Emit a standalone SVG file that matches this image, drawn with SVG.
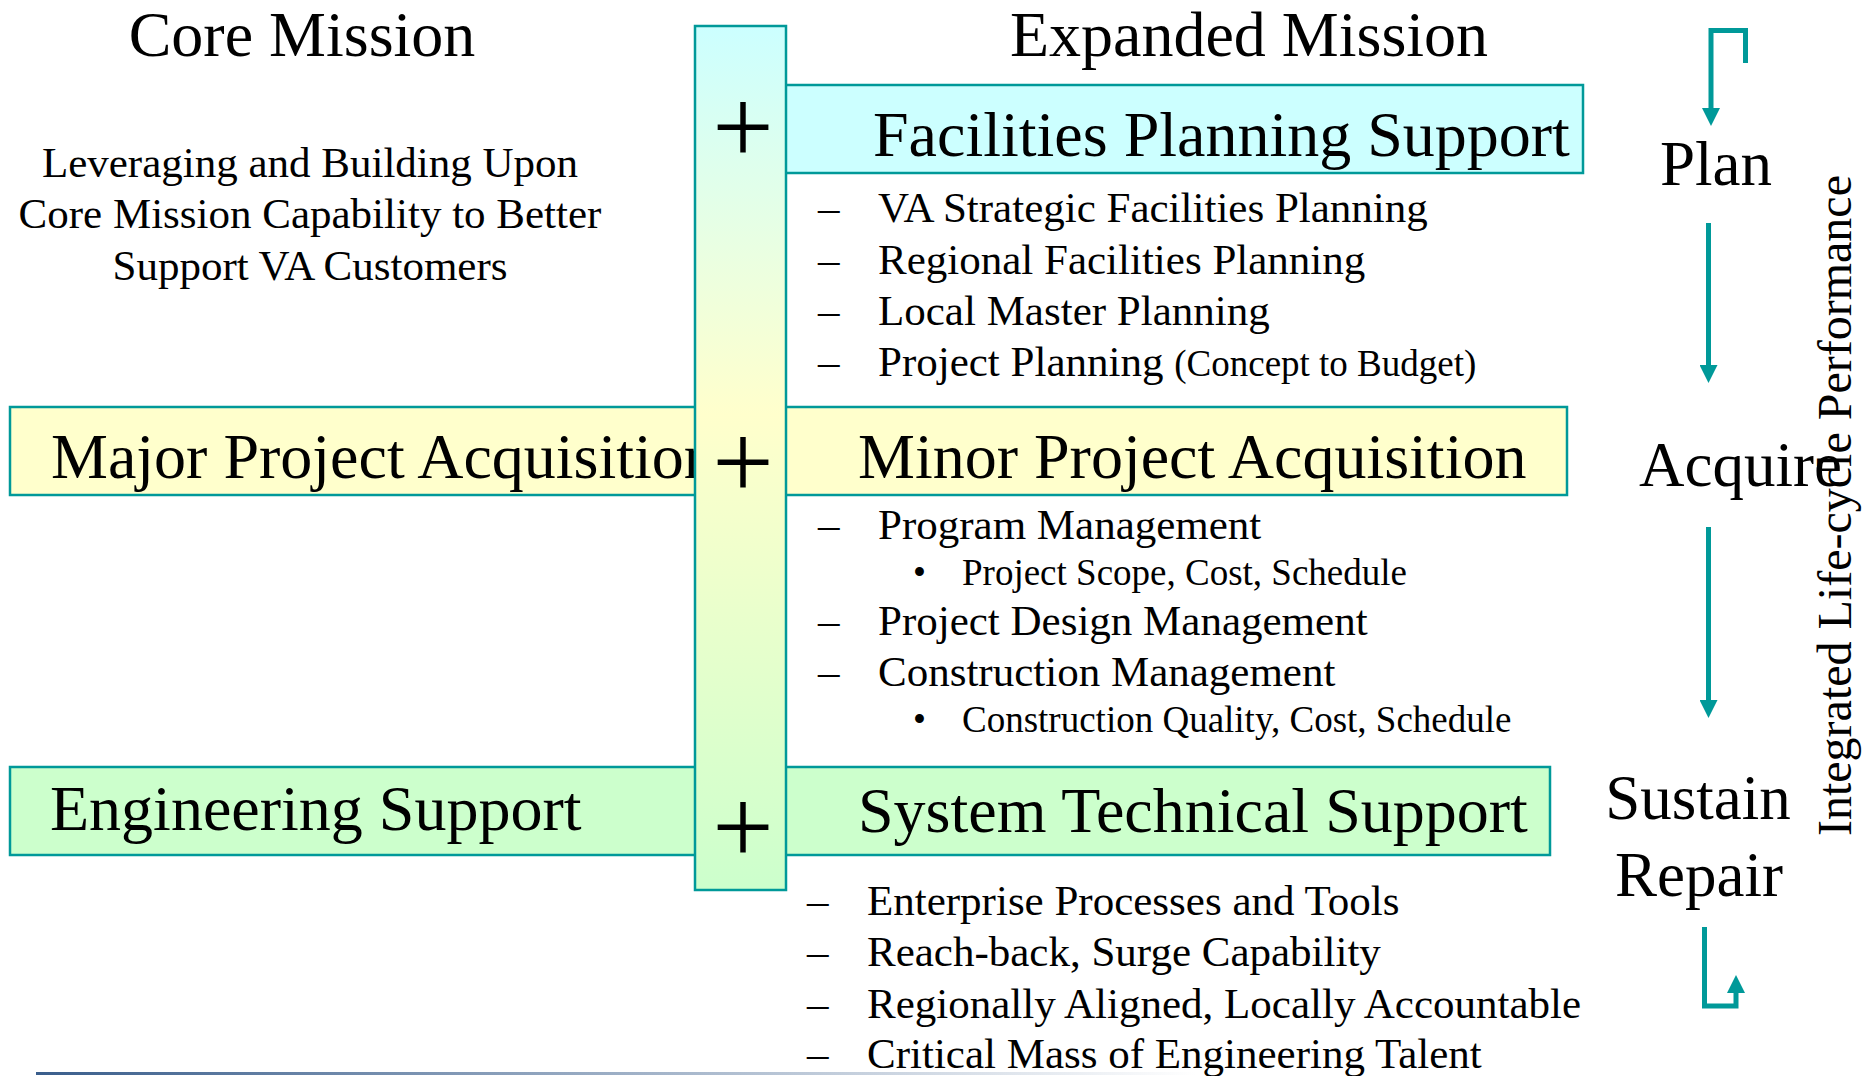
<svg xmlns="http://www.w3.org/2000/svg" width="1873" height="1076" viewBox="0 0 1873 1076">
<style>
.t{font-family:"Liberation Serif","Times New Roman",serif;fill:#000}
.h{font-size:64px}
.b{font-size:43px}
.s{font-size:37px}
.r{font-size:63px}
.box{stroke:#009999;stroke-width:2.5}
.arr{stroke:#009999;stroke-width:5;fill:none;stroke-linejoin:miter;stroke-linecap:butt}
</style>
<defs>
<linearGradient id="barGrad" x1="0" y1="0" x2="0" y2="1">
<stop offset="0" stop-color="#ccffff"/>
<stop offset="0.45" stop-color="#ffffcc"/>
<stop offset="1" stop-color="#ccffcc"/>
</linearGradient>
<linearGradient id="lineGrad" x1="0" y1="0" x2="1" y2="0">
<stop offset="0" stop-color="#3a5e8c"/>
<stop offset="1" stop-color="#ffffff"/>
</linearGradient>
<marker id="ah" viewBox="0 0 18 18" refX="0" refY="9" markerWidth="18" markerHeight="18" markerUnits="userSpaceOnUse" orient="auto">
<path d="M0,0 L18,9 L0,18 z" fill="#009999"/>
</marker>
</defs>
<rect width="1873" height="1076" fill="#fff"/>

<g id="headings">
<text class="t h" x="302" y="56" text-anchor="middle">Core Mission</text>
<text class="t h" x="1249" y="56" text-anchor="middle">Expanded Mission</text>
</g>

<g id="core-description">
<text class="t b" x="310" y="177" text-anchor="middle">Leveraging and Building Upon</text>
<text class="t b" x="310" y="228" text-anchor="middle">Core Mission Capability to Better</text>
<text class="t b" x="310" y="280" text-anchor="middle">Support VA Customers</text>
</g>

<g id="major-project-acquisition">
<rect class="box" x="10" y="407" width="700" height="88" fill="#ffffcc"/>
<text class="t h" x="51" y="478">Major Project Acquisition</text>
</g>

<g id="engineering-support">
<rect class="box" x="10" y="767" width="700" height="88" fill="#ccffcc"/>
<text class="t h" x="50" y="830">Engineering Support</text>
</g>

<g id="facilities-planning-support">
<rect class="box" x="770" y="85" width="813" height="88" fill="#ccffff"/>
<text class="t h" x="873" y="156">Facilities Planning Support</text>
<g class="t b">
<text x="818" y="222">–</text><text x="878" y="222">VA Strategic Facilities Planning</text>
<text x="818" y="274">–</text><text x="878" y="274">Regional Facilities Planning</text>
<text x="818" y="325">–</text><text x="878" y="325">Local Master Planning</text>
<text x="818" y="376">–</text><text x="878" y="376">Project Planning <tspan font-size="37px">(Concept to Budget)</tspan></text>
</g>
</g>

<g id="minor-project-acquisition">
<rect class="box" x="770" y="407" width="797" height="88" fill="#ffffcc"/>
<text class="t h" x="858" y="478">Minor Project Acquisition</text>
<g class="t b">
<text x="818" y="539">–</text><text x="878" y="539">Program Management</text>
<text x="818" y="635">–</text><text x="878" y="635">Project Design Management</text>
<text x="818" y="686">–</text><text x="878" y="686">Construction Management</text>
</g>
<g class="t s">
<text x="913" y="585">•</text><text x="962" y="585">Project Scope, Cost, Schedule</text>
<text x="913" y="732">•</text><text x="962" y="732">Construction Quality, Cost, Schedule</text>
</g>
</g>

<g id="system-technical-support">
<rect class="box" x="770" y="767" width="780" height="88" fill="#ccffcc"/>
<text class="t h" x="858" y="832">System Technical Support</text>
<g class="t b">
<text x="807" y="915">–</text><text x="867" y="915">Enterprise Processes and Tools</text>
<text x="807" y="966">–</text><text x="867" y="966">Reach-back, Surge Capability</text>
<text x="807" y="1018">–</text><text x="867" y="1018">Regionally Aligned, Locally Accountable</text>
<text x="807" y="1068">–</text><text x="867" y="1068">Critical Mass of Engineering Talent</text>
</g>
</g>

<g id="plus-bar">
<rect class="box" x="695" y="26" width="91" height="864" fill="url(#barGrad)"/>
<g class="t" font-size="109px" text-anchor="middle">
<text x="743" y="163">+</text>
<text x="743" y="498">+</text>
<text x="743" y="863">+</text>
</g>
</g>

<g id="lifecycle-stages">
<text class="t r" x="1716" y="185" text-anchor="middle">Plan</text>
<text class="t r" x="1639" y="486">Acquire</text>
<text class="t r" x="1698" y="819" text-anchor="middle">Sustain</text>
<text class="t r" x="1699" y="896" text-anchor="middle">Repair</text>
</g>

<g id="lifecycle-label">
<text class="t" font-size="48px" transform="translate(1851,836) rotate(-90)">Integrated Life-cycle Performance</text>
</g>

<g id="connectors">
<path class="arr" d="M1745.5,63 V30.5 H1711 V108" marker-end="url(#ah)"/>
<path class="arr" d="M1708.5,223 V365" marker-end="url(#ah)"/>
<path class="arr" d="M1708.5,527 V700" marker-end="url(#ah)"/>
<path class="arr" d="M1704.5,927 V1006 H1736 V993" marker-end="url(#ah)"/>
</g>

<rect id="footer-line" x="36" y="1072" width="1160" height="3" fill="url(#lineGrad)"/>
</svg>
